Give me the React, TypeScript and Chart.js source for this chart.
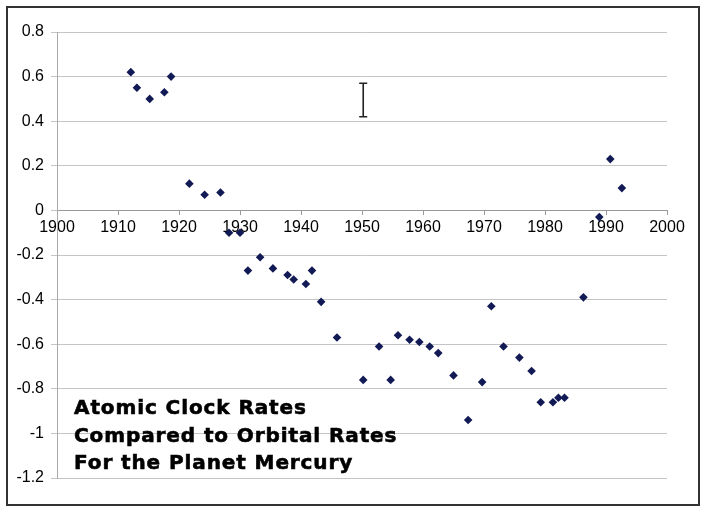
import React, { useEffect, useRef } from "react";
import { Chart, registerables } from "chart.js";

Chart.register(...registerables);

const years = [1912.1, 1913.1, 1915.2, 1917.6, 1918.7, 1921.7, 1924.2, 1926.8, 1928.2, 1930.0, 1931.3, 1933.3, 1935.4, 1937.8, 1938.8, 1940.8, 1941.8, 1943.3, 1945.9, 1950.2, 1952.8, 1954.7, 1955.9, 1957.8, 1959.4, 1961.1, 1962.5, 1965.0, 1967.4, 1969.7, 1971.2, 1973.2, 1975.8, 1977.8, 1979.3, 1981.3, 1982.2, 1983.2, 1986.3, 1988.9, 1990.7, 1992.6];
const values = [0.62, 0.55, 0.50, 0.53, 0.60, 0.12, 0.07, 0.08, -0.10, -0.10, -0.27, -0.21, -0.26, -0.29, -0.31, -0.33, -0.27, -0.41, -0.57, -0.76, -0.61, -0.76, -0.56, -0.58, -0.59, -0.61, -0.64, -0.74, -0.94, -0.77, -0.43, -0.61, -0.66, -0.72, -0.86, -0.86, -0.84, -0.84, -0.39, -0.03, 0.23, 0.10];

const errorBarYear = [1950.2];
const errorBarLow = [0.42];
const errorBarHigh = [0.57];

const xTicks = { min: 1900, max: 2000, step: 10 };
const yTicks = { min: -1.2, max: 0.8, step: 0.2 };

const titleLines = ["Atomic Clock Rates", "Compared to Orbital Rates", "For the Planet Mercury"];

const errorBarPlugin = {
  id: "errorBar",
  afterDatasetsDraw(chart: any) {
    const { ctx, scales } = chart;
    const xs = scales.x;
    const ys = scales.y;
    ctx.save();
    ctx.strokeStyle = "#222";
    ctx.lineWidth = 1.6;
    for (let i = 0; i < errorBarYear.length; i++) {
      const px = xs.getPixelForValue(errorBarYear[i]);
      const top = ys.getPixelForValue(errorBarHigh[i]);
      const bot = ys.getPixelForValue(errorBarLow[i]);
      ctx.beginPath();
      ctx.moveTo(px, top);
      ctx.lineTo(px, bot);
      ctx.moveTo(px - 4, top);
      ctx.lineTo(px + 4, top);
      ctx.moveTo(px - 4, bot);
      ctx.lineTo(px + 4, bot);
      ctx.stroke();
    }
    ctx.restore();
  },
};

export default function App() {
  const ref = useRef<HTMLCanvasElement | null>(null);

  useEffect(() => {
    if (!ref.current) return;
    const chart = new Chart(ref.current, {
      type: "scatter",
      data: {
        datasets: [
          {
            label: "Rates",
            data: years.map((x, i) => ({ x, y: values[i] })),
            pointStyle: "rectRot",
            pointRadius: 4.3,
            pointHoverRadius: 4.3,
            backgroundColor: "#121a55",
            borderColor: "#121a55",
            borderWidth: 0,
          },
        ],
      },
      options: {
        responsive: false,
        animation: false,
        events: [],
        layout: { padding: { left: 0, top: 32, right: 40, bottom: 35 } },
        plugins: {
          legend: { display: false },
          tooltip: { enabled: false },
          title: { display: false },
        },
        scales: {
          x: {
            type: "linear",
            position: { y: 0 } as any,
            min: xTicks.min,
            max: xTicks.max,
            ticks: {
              stepSize: xTicks.step,
              color: "#000",
              font: { family: "'Liberation Sans', Arial, sans-serif", size: 16 },
              padding: 4,
              maxRotation: 0,
              callback: (v: any) => String(v),
            },
            grid: {
              display: true,
              drawOnChartArea: false,
              drawTicks: true,
              tickLength: 4,
              color: "#999",
            },
            border: { display: true, color: "#999", width: 1 },
          },
          y: {
            type: "linear",
            position: "left",
            min: yTicks.min,
            max: yTicks.max,
            afterFit: (scale: any) => {
              scale.width = 57;
            },
            ticks: {
              stepSize: yTicks.step,
              color: "#000",
              font: { family: "'Liberation Sans', Arial, sans-serif", size: 16 },
              padding: 7,
              callback: (v: any) => String(Number(Number(v).toFixed(1))),
            },
            grid: {
              color: "#c4c4c4",
              tickLength: 6,
              drawTicks: true,
            },
            border: { display: true, color: "#aaa", width: 1 },
          },
        },
      },
      plugins: [errorBarPlugin],
    });
    return () => chart.destroy();
  }, []);

  return (
    <div style={{ position: "fixed", left: 0, top: 0, width: 707, height: 513, background: "#fff" }}>
      <canvas ref={ref} width={707} height={513} style={{ position: "absolute", left: 0, top: 0 }} />
      <div
        style={{
          position: "absolute",
          left: 6,
          top: 6,
          width: 694,
          height: 500,
          border: "2px solid #333",
          boxSizing: "border-box",
          pointerEvents: "none",
        }}
      />
      <div
        style={{
          position: "absolute",
          left: 74,
          top: 394,
          fontFamily: "'DejaVu Sans', sans-serif",
          fontWeight: 900,
          fontSize: 20,
          letterSpacing: "0.9px",
          lineHeight: "27.5px",
          color: "#000",
          whiteSpace: "nowrap",
          WebkitTextStroke: "0.6px #000",
        }}
      >
        {titleLines.map((t) => (
          <div key={t}>{t}</div>
        ))}
      </div>
    </div>
  );
}
